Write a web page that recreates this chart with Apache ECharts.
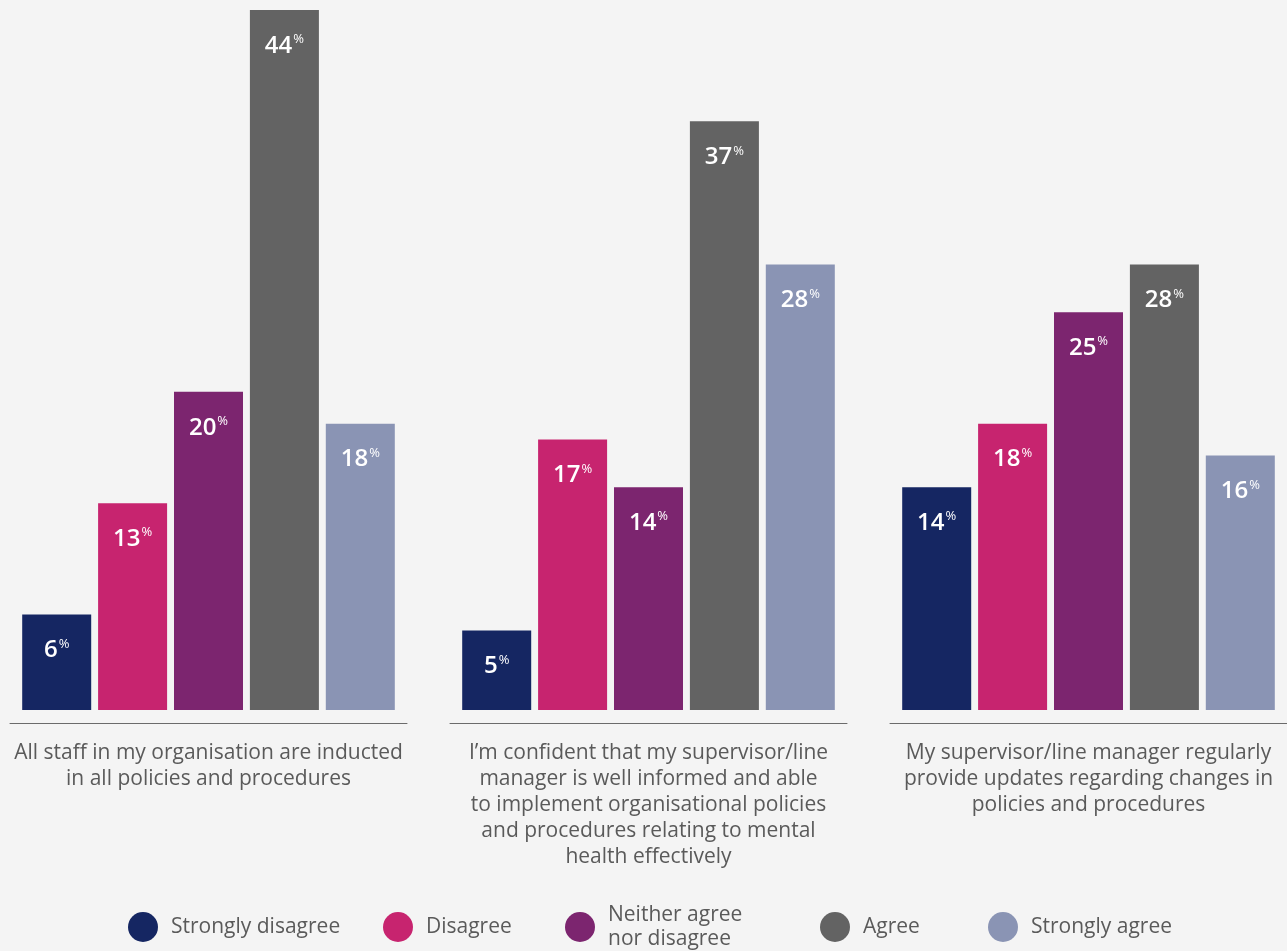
<!DOCTYPE html>
<html>
<head>
<meta charset="utf-8">
<style>
  html, body { margin: 0; padding: 0; background: #f4f4f4; }
  #chart { width: 1287px; height: 951px; }
</style>
<script src="https://cdn.jsdelivr.net/npm/echarts@6/dist/echarts.min.js"></script>
</head>
<body>
<div id="chart"></div>
<script>
// Survey statements (one panel each)
const statements = [
  'All staff in my organisation are inducted\nin all policies and procedures',
  'I\u2019m confident that my supervisor/line\nmanager is well informed and able\nto implement organisational policies\nand procedures relating to mental\nhealth effectively',
  'My supervisor/line manager regularly\nprovide updates regarding changes in\npolicies and procedures'
];

// Response options
const responses = ['Strongly disagree', 'Disagree', 'Neither agree\nnor disagree', 'Agree', 'Strongly agree'];

// Percentages per response, one value per statement
const stronglyDisagree = [6, 5, 14];
const disagree = [13, 17, 18];
const neither = [20, 14, 25];
const agree = [44, 37, 28];
const stronglyAgree = [18, 28, 16];

const responseValues = [stronglyDisagree, disagree, neither, agree, stronglyAgree];
const colors = ['#152662', '#c7246f', '#7c256f', '#636363', '#8a94b4'];

const FONT = '"Open Sans", Lato, sans-serif';
const panelLeft = [10, 450, 890];
const panelWidth = 397;

const grids = panelLeft.map(l => ({ left: l, width: panelWidth, top: 10, bottom: 241 }));

const xAxes = statements.map((s, i) => ({
  type: 'category',
  gridIndex: i,
  data: [s],
  offset: 13,
  axisLine: { onZero: false, lineStyle: { color: '#6b6b6b', width: 1 } },
  axisTick: { show: false },
  axisLabel: {
    interval: 0,
    margin: 17,
    fontFamily: FONT,
    fontSize: 21,
    lineHeight: 26,
    color: '#5a5a5a',
    align: 'center'
  }
}));

const yAxes = statements.map((s, i) => ({
  type: 'value',
  gridIndex: i,
  min: 0,
  max: 44,
  show: false,
  splitLine: { show: false }
}));

const series = [];
statements.forEach((s, g) => {
  responses.forEach((r, a) => {
    series.push({
      name: r,
      type: 'bar',
      xAxisIndex: g,
      yAxisIndex: g,
      barWidth: 69,
      barGap: '10%',
      data: [responseValues[a][g]],
      itemStyle: { color: colors[a] },
      label: {
        show: true,
        position: 'insideTop',
        distance: 23,
        formatter: p => '{n|' + p.value + '}{p|%}',
        rich: {
          n: { fontFamily: FONT, fontSize: 24, fontWeight: 600, color: '#ffffff', lineHeight: 26 },
          p: { fontFamily: FONT, fontSize: 13, color: '#ffffff', verticalAlign: 'top', lineHeight: 14, padding: [0, 0, 10, 1] }
        }
      }
    });
  });
});

// One legend block per response so each item sits at its own spot
const legendLeft = [128, 383, 565, 820, 988];
const legendTop = [912, 912, 903, 912, 912];
const legends = responses.map((r, a) => ({
  data: [r],
  left: legendLeft[a],
  top: legendTop[a],
  padding: 0,
  icon: 'circle',
  itemWidth: 30,
  itemHeight: 30,
  selectedMode: false,
  textStyle: {
    fontFamily: FONT,
    fontSize: 21,
    lineHeight: 24,
    color: '#5a5a5a',
    padding: [0, 0, 0, 8]
  }
}));

const chart = echarts.init(document.getElementById('chart'));
chart.setOption({
  backgroundColor: '#f4f4f4',
  animation: false,
  grid: grids,
  xAxis: xAxes,
  yAxis: yAxes,
  legend: legends,
  series: series
});
</script>
</body>
</html>
